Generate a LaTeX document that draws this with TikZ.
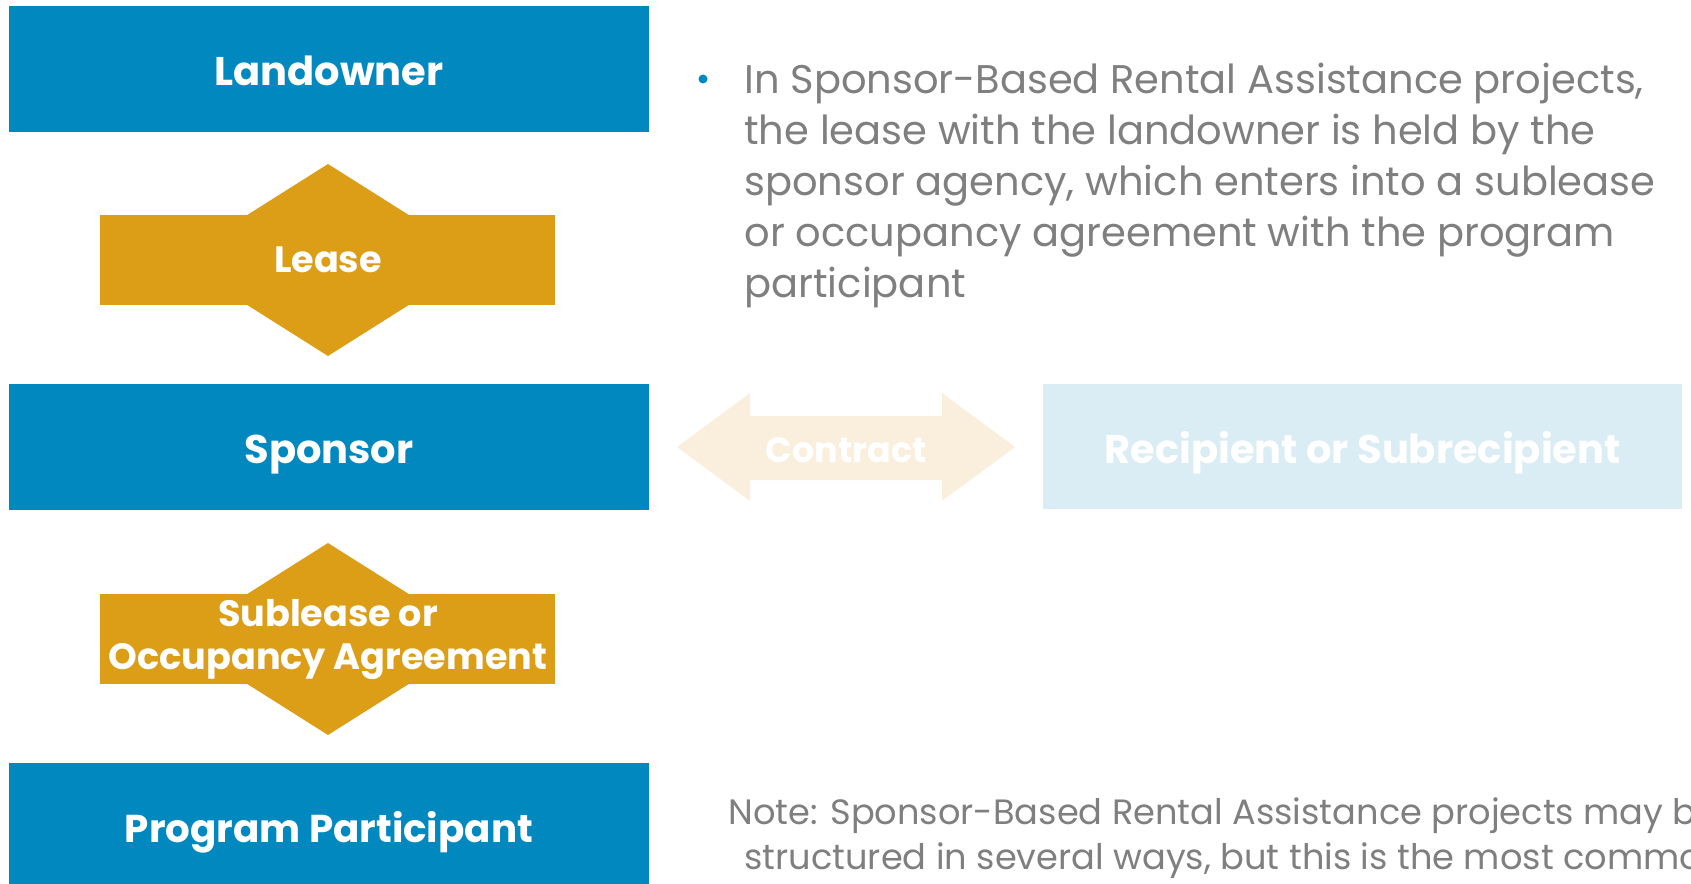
\documentclass[tikz,border=0pt]{standalone}
\usepackage{fontspec}
\setmainfont{Poppins}
\usepackage{tikz}
\usetikzlibrary{calc}
\definecolor{partyblue}{HTML}{0088BF}
\definecolor{agreegold}{HTML}{DC9D17}
\definecolor{textgray}{HTML}{7F7F7F}
\definecolor{fadedgold}{HTML}{F9EFDC}
\definecolor{fadedblue}{HTML}{DAEDF4}
\newcommand{\agreement}[3]{\fill[agreegold] ( 100 , #2 - 45 ) rectangle ( 555 , #2 + 45 ); \fill[agreegold] ( 176 , #2 ) -- ( 328 , #2 - 96 ) -- ( 480 , #2 ) -- ( 328 , #2 + 96 ) -- cycle; \node[agreetext] (#1) at ( 328 , #2 ) {#3};}
\newcommand{\contract}[3]{\fill[fadedgold] ( #2 - 169 , #3 ) -- ( #2 - 96 , #3 - 54 ) -- ( #2 - 96 , #3 - 31 ) -- ( #2 + 96 , #3 - 31 ) -- ( #2 + 96 , #3 - 54 ) -- ( #2 + 169 , #3 ) -- ( #2 + 96 , #3 + 54 ) -- ( #2 + 96 , #3 + 33 ) -- ( #2 - 96 , #3 + 33 ) -- ( #2 - 96 , #3 + 54 ) -- cycle; \node[labeltext, font=\fontsize{17.5}{20}\selectfont\bfseries, text height=15.5pt] (#1) at ( #2 , #3 ) {Contract};}

\begin{document}
\begin{tikzpicture}[x=0.5pt, y=-0.5pt,
    labeltext/.style={text=white, font=\fontsize{20}{22}\selectfont\bfseries, inner sep=0pt, text height=16.5pt, text depth=0pt},
    partybox/.style={labeltext, fill=partyblue, minimum width=320pt, minimum height=63pt},
    fadedbox/.style={labeltext, fill=fadedblue, minimum width=319.5pt, minimum height=62.5pt},
    agreetext/.style={text=white, align=center, inner sep=0pt, font=\fontsize{18.3}{21.5}\selectfont\bfseries},
    bodytext/.style={text=textgray, align=left, anchor=north west, inner sep=0pt, font=\fontsize{20}{25.5}\selectfont},
    notetext/.style={bodytext, font=\fontsize{17.6}{22.5}\selectfont},
    bulletdot/.style={circle, fill=partyblue, minimum size=4.5pt, inner sep=0pt}]
    \useasboundingbox (0,0) rectangle (1691,883);
    \clip (0,0) rectangle (1691,883);
    % left column
    \node[partybox] (landowner) at (329,69) {Landowner};
    \agreement{lease}{260}{Lease}
    \node[partybox] (sponsor) at (329,446.5) {Sponsor};
    \agreement{sublease}{639}{Sublease or\\Occupancy Agreement}
    \node[partybox, font=\fontsize{19.4}{22}\selectfont\bfseries, text height=16pt] (participant) at (329,826) {Program Participant};
    % right side
    \contract{contract}{846}{447}
    \node[fadedbox] (recipient) at (1362.5,446.5) {Recipient or Subrecipient};
    % texts
    \node[bulletdot] (dot) at (703,79) {};
    \node[bodytext] (summary) at (744,63) {In Sponsor-Based Rental Assistance projects,\\the lease with the landowner is held by the\\sponsor agency, which enters into a sublease\\or occupancy agreement with the program\\participant};
    \node[notetext] (note) at (728,797) {Note: Sponsor-Based Rental Assistance projects may be\\\hspace{8pt}structured in several ways, but this is the most common};
\end{tikzpicture}
\end{document}
